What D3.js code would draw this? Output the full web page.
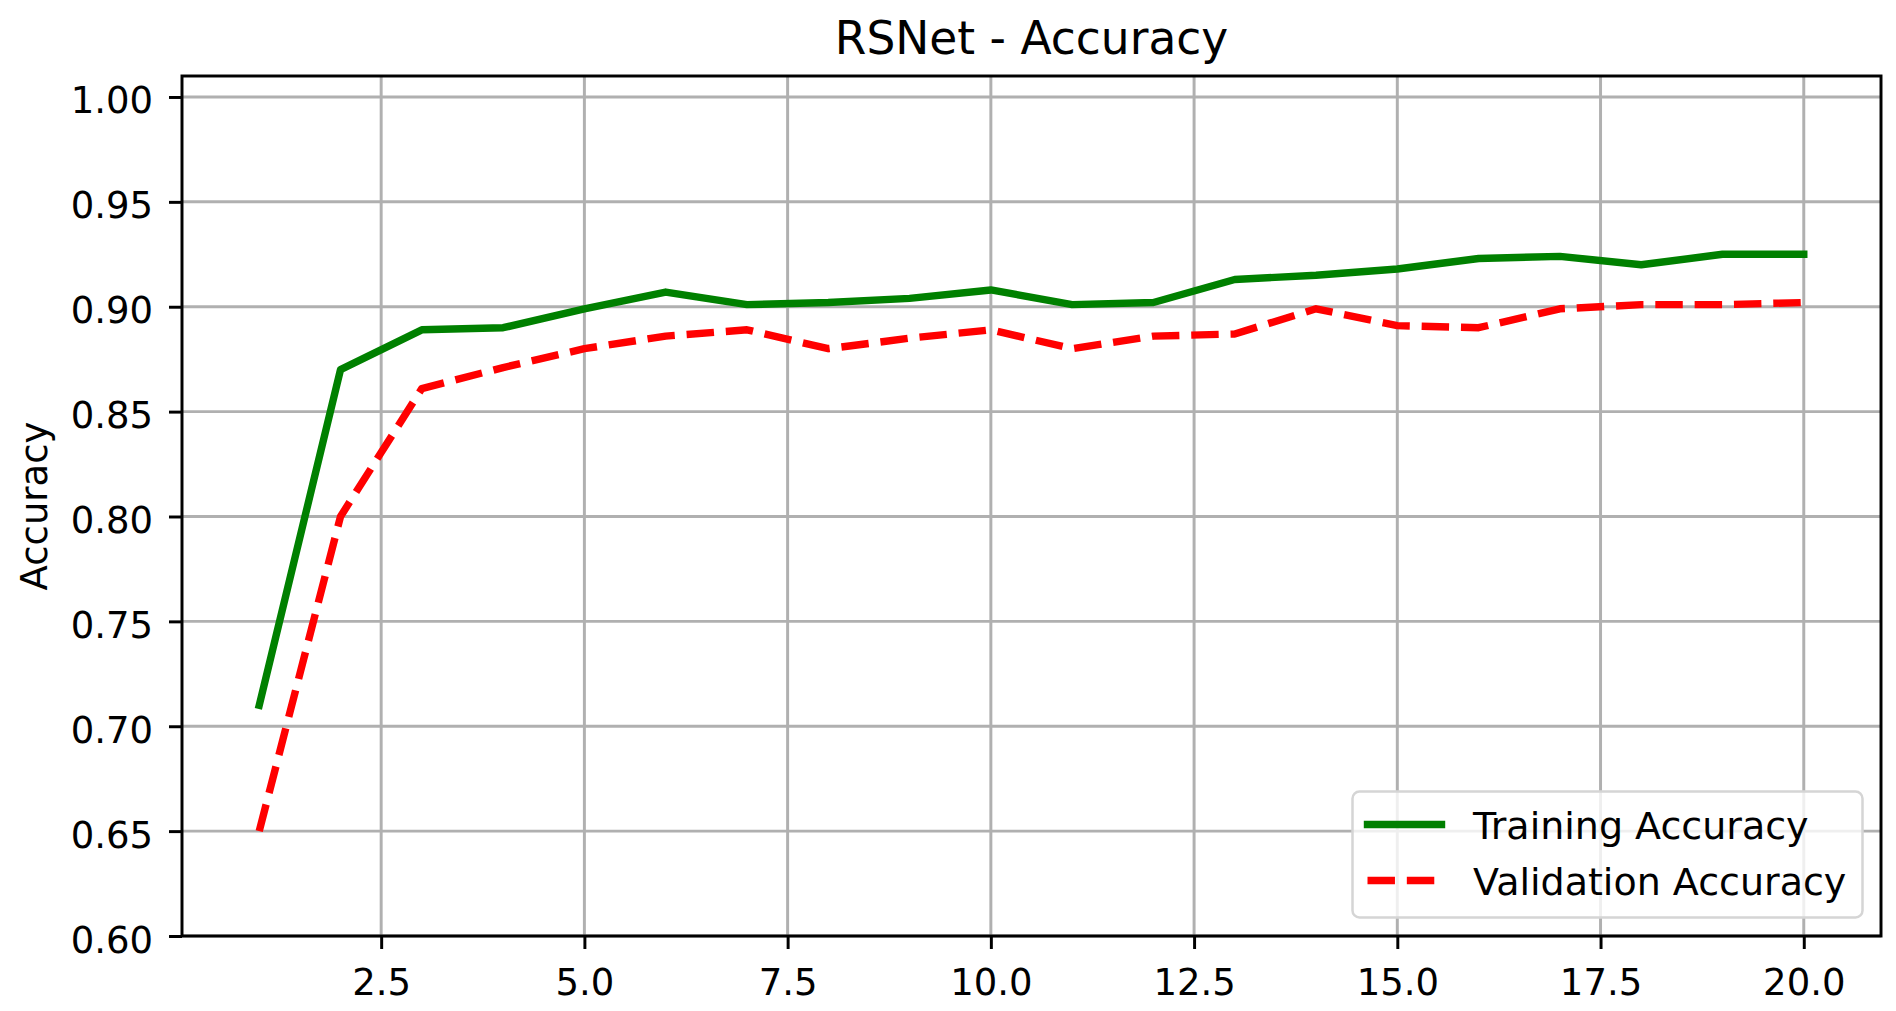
<!DOCTYPE html>
<html>
<head>
<meta charset="utf-8">
<script src="https://cdn.jsdelivr.net/npm/d3@7"></script>
<style>
  html, body { margin: 0; padding: 0; background: #fff; }
  #chart text { font-family: "DejaVu Sans", sans-serif; fill: #000; }
</style>
</head>
<body>
<div id="chart"></div>
<script>
;(function() {
  "use strict";

  // Data
  // ---------------------------------------------------------------------------
  var epochs = [1, 2, 3, 4, 5, 6, 7, 8, 9, 10, 11, 12, 13, 14, 15, 16, 17, 18, 19, 20];
  var trainAcc = [0.710, 0.870, 0.889, 0.890, 0.899, 0.907, 0.901, 0.902, 0.904, 0.908,
                  0.901, 0.902, 0.913, 0.915, 0.918, 0.923, 0.924, 0.920, 0.925, 0.925];
  var valAcc   = [0.650, 0.800, 0.861, 0.871, 0.880, 0.886, 0.889, 0.880, 0.885, 0.889,
                  0.880, 0.886, 0.887, 0.899, 0.891, 0.890, 0.899, 0.901, 0.901, 0.902];
  var seriesNames = ["Training Accuracy", "Validation Accuracy"];
  var xTicks = [2.5, 5.0, 7.5, 10.0, 12.5, 15.0, 17.5, 20.0];
  var yTicks = [0.60, 0.65, 0.70, 0.75, 0.80, 0.85, 0.90, 0.95, 1.00];

  var chart = document.querySelector("#chart");

  // Dimensions
  // ---------------------------------------------------------------------------
  var W = 1896, H = 1011;
  var margin = { top: 76, right: 15, bottom: 75, left: 182 };
  var width = W - margin.left - margin.right;
  var height = H - margin.top - margin.bottom;
  var px = 3.71;            // pixels per point
  var fs = 37;              // 10pt text
  var lfs = 38;             // legend text renders a touch wider

  var x = d3.scaleLinear().domain([0.05, 20.95]).range([0, width]);
  var y = d3.scaleLinear().domain([0.60, 1.01]).range([height, 0]);

  var svg = d3.select(chart).append("svg")
    .attr("width", W)
    .attr("height", H);

  var g = svg.append("g")
    .attr("transform", "translate(" + [margin.left, margin.top] + ")");

  // Grid
  // ---------------------------------------------------------------------------
  var grid = g.append("g").attr("class", "grid");

  grid.selectAll("line.gx")
    .data(xTicks)
    .enter().append("line")
      .attr("class", "gx")
      .attr("x1", function(d) { return x(d); })
      .attr("x2", function(d) { return x(d); })
      .attr("y1", 0)
      .attr("y2", height);

  grid.selectAll("line.gy")
    .data(yTicks)
    .enter().append("line")
      .attr("class", "gy")
      .attr("y1", function(d) { return y(d); })
      .attr("y2", function(d) { return y(d); })
      .attr("x1", 0)
      .attr("x2", width);

  grid.selectAll("line")
    .attr("stroke", "#b0b0b0")
    .attr("stroke-width", 0.8 * px);

  // Lines
  // ---------------------------------------------------------------------------
  function series(vals) {
    return epochs.map(function(e, i) { return [e, vals[i]]; });
  }

  var line = d3.line()
    .x(function(d) { return x(d[0]); })
    .y(function(d) { return y(d[1]); });

  g.append("path")
    .datum(series(trainAcc))
    .attr("d", line)
    .attr("fill", "none")
    .attr("stroke", "#008000")
    .attr("stroke-width", 2 * px)
    .attr("stroke-linejoin", "round")
    .attr("stroke-linecap", "square");

  var dash = [3.7 * 2 * px, 1.6 * 2 * px].join(",");

  g.append("path")
    .datum(series(valAcc))
    .attr("d", line)
    .attr("fill", "none")
    .attr("stroke", "#ff0000")
    .attr("stroke-width", 2 * px)
    .attr("stroke-linejoin", "round")
    .attr("stroke-linecap", "butt")
    .attr("stroke-dasharray", dash);

  // Axes
  // ---------------------------------------------------------------------------
  var xAxis = d3.axisBottom(x)
    .tickValues(xTicks)
    .tickSize(3.5 * px)
    .tickFormat(d3.format(".1f"));

  var yAxis = d3.axisLeft(y)
    .tickValues(yTicks)
    .tickSize(3.5 * px)
    .tickPadding(16)
    .tickFormat(d3.format(".2f"));

  var gx = g.append("g")
    .attr("transform", "translate(0," + height + ")")
    .call(xAxis);
  gx.selectAll("text").attr("y", 59).attr("dy", 0);

  var gy = g.append("g").call(yAxis);
  gy.selectAll("text").attr("dy", 16);

  [gx, gy].forEach(function(a) {
    a.select(".domain").remove();
    a.selectAll(".tick line")
      .attr("stroke", "#000")
      .attr("stroke-width", 0.8 * px);
    a.selectAll("text")
      .attr("font-size", fs)
      .attr("font-family", null);
  });

  // Legend
  // ---------------------------------------------------------------------------
  var lgRight = width - 0.5 * fs, lgBottom = height - 0.5 * fs;
  var lgW = 510, lgH = 126;
  var legend = g.append("g")
    .attr("transform", "translate(" + [lgRight - lgW, lgBottom - lgH] + ")");

  legend.append("rect")
    .attr("width", lgW)
    .attr("height", lgH)
    .attr("rx", 7)
    .attr("fill", "rgba(255,255,255,0.8)")
    .attr("stroke", "#d5d5d5")
    .attr("stroke-width", 2.5);

  var rows = legend.selectAll("g.row")
    .data(seriesNames)
    .enter().append("g")
      .attr("class", "row")
      .attr("transform", function(d, i) { return "translate(0," + (33 + i * 56) + ")"; });

  rows.append("line")
    .attr("x1", 15)
    .attr("x2", 15 + 2 * fs)
    .attr("stroke", function(d, i) { return i ? "#ff0000" : "#008000"; })
    .attr("stroke-width", 2 * px)
    .attr("stroke-linecap", function(d, i) { return i ? "butt" : "square"; })
    .attr("stroke-dasharray", function(d, i) { return i ? dash : null; });

  rows.append("text")
    .attr("x", 15 + 2 * fs + 0.8 * fs + 2)
    .attr("y", 14)
    .attr("font-size", lfs)
    .text(function(d) { return d; });

  // Spines
  // ---------------------------------------------------------------------------
  g.append("rect")
    .attr("width", width)
    .attr("height", height)
    .attr("fill", "none")
    .attr("stroke", "#000")
    .attr("stroke-width", 0.8 * px);

  // Title and y label
  // ---------------------------------------------------------------------------
  svg.append("text")
    .attr("x", margin.left + width / 2)
    .attr("y", 54)
    .attr("text-anchor", "middle")
    .attr("font-size", 45.5)
    .text("RSNet - Accuracy");

  svg.append("text")
    .attr("transform", "translate(47," + (margin.top + height / 2) + ") rotate(-90)")
    .attr("text-anchor", "middle")
    .attr("font-size", fs)
    .text("Accuracy");
})();
</script>
</body>
</html>
